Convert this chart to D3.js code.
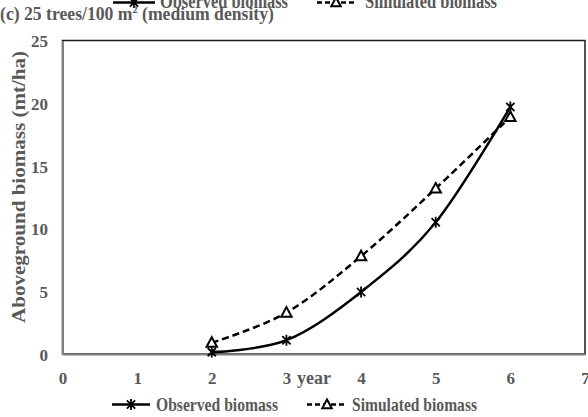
<!DOCTYPE html>
<html>
<head>
<meta charset="utf-8">
<script src="https://cdn.jsdelivr.net/npm/d3@7"></script>
<style>
  html, body { margin: 0; padding: 0; background: #fff; }
  svg { display: block; }
  text { font-family: "Liberation Serif", "Times New Roman", serif; font-weight: bold; fill: #595959; }
</style>
</head>
<body>
<svg id="chart" width="588" height="417"></svg>
<script>
// ---- data ----
const years = [2, 3, 4, 5, 6];
const observed = [0.15, 1.1, 4.95, 10.5, 19.7];
const simulated = [0.9, 3.3, 7.8, 13.2, 18.9];
const xTicks = [0, 1, 2, 3, 4, 5, 6, 7];
const yTicks = [0, 5, 10, 15, 20, 25];
const seriesNames = ["Observed biomass", "Simulated biomass"];
const titleMain = "(c) 25 trees/100 m";
const titleSup = "2";
const titleEnd = " (medium density)";
const xTitle = "year";
const yTitle = "Aboveground biomass (mt/ha)";

const svg = d3.select("#chart");
const L = 62.5, R = 585, T = 40.5, B = 354;
const x = d3.scaleLinear().domain([0, 7]).range([L, R]);
const y = d3.scaleLinear().domain([0, 25]).range([B, T]);

// plot border
svg.append("rect").attr("x", L).attr("y", T).attr("width", R - L).attr("height", B - T)
  .attr("fill", "none").attr("stroke", "#1a1a1a").attr("stroke-width", 1.5);

// axes
const xAxis = svg.append("g").attr("transform", `translate(0,${B})`)
  .call(d3.axisBottom(x).tickValues(xTicks).tickSize(0).tickFormat(d3.format("d")));
xAxis.select(".domain").attr("stroke", "#7f7f7f").attr("stroke-width", 2);
xAxis.selectAll("text").attr("y", 29.5).attr("dy", 0).attr("font-size", 17)
  .style("font-family", "Liberation Serif").style("font-weight", "bold").attr("fill", "#595959");

const yAxis = svg.append("g").attr("transform", `translate(${L},0)`)
  .call(d3.axisLeft(y).tickValues(yTicks).tickSize(0).tickFormat(d3.format("d")));
yAxis.select(".domain").attr("stroke", "#7f7f7f").attr("stroke-width", 2);
yAxis.selectAll("text").attr("x", -14.5).attr("dy", "0.36em").attr("font-size", 17)
  .style("font-family", "Liberation Serif").style("font-weight", "bold").attr("fill", "#595959");

// axis titles
svg.append("text").attr("x", 314).attr("y", 383.5).attr("text-anchor", "middle")
  .attr("font-size", 18).text(xTitle);
svg.append("text").attr("transform", "translate(25,187) rotate(-90)").attr("text-anchor", "middle")
  .attr("font-size", 18.5).attr("textLength", 272).attr("lengthAdjust", "spacingAndGlyphs").text(yTitle);

// markers
function starPath(cx, cy, r) {
  const d = r * 0.75;
  return `M${cx},${cy - r}L${cx},${cy + r}M${cx - d},${cy - d}L${cx + d},${cy + d}M${cx - d},${cy + d}L${cx + d},${cy - d}`;
}
function triPath(cx, cy, r) {
  return `M${cx},${cy - r}L${cx + r * 0.95},${cy + r * 0.75}L${cx - r * 0.95},${cy + r * 0.75}Z`;
}

const line = d3.line().curve(d3.curveCatmullRom.alpha(0)).x((d, i) => x(years[i])).y(d => y(d));

// simulated
svg.append("path").datum(simulated).attr("d", line).attr("fill", "none")
  .attr("stroke", "#000").attr("stroke-width", 2.5).attr("stroke-dasharray", "7,4");
// observed
svg.append("path").datum(observed).attr("d", line).attr("fill", "none")
  .attr("stroke", "#000").attr("stroke-width", 2.5);

svg.selectAll(".tri").data(simulated).enter().append("path")
  .attr("d", (d, i) => triPath(x(years[i]), y(d), 5.5))
  .attr("fill", "#fff").attr("stroke", "#000").attr("stroke-width", 2);
svg.selectAll(".star").data(observed).enter().append("path")
  .attr("d", (d, i) => starPath(x(years[i]), y(d), 5.5))
  .attr("fill", "none").attr("stroke", "#000").attr("stroke-width", 1.8);

// legends
function legend(yLine, yText, x1, x2, xt1, sx1, sx2, xt2, w1, w2, fs) {
  const g = svg.append("g");
  g.append("line").attr("x1", x1).attr("x2", x2).attr("y1", yLine).attr("y2", yLine)
    .attr("stroke", "#000").attr("stroke-width", 2.5);
  g.append("path").attr("d", starPath((x1 + x2) / 2, yLine, 5.5)).attr("stroke", "#000")
    .attr("stroke-width", 1.8).attr("fill", "none");
  g.append("text").attr("x", xt1).attr("y", yText).attr("font-size", fs)
    .attr("textLength", w1).attr("lengthAdjust", "spacingAndGlyphs").text(seriesNames[0]);
  g.append("line").attr("x1", sx1).attr("x2", sx2).attr("y1", yLine).attr("y2", yLine)
    .attr("stroke", "#000").attr("stroke-width", 2.5).attr("stroke-dasharray", "5,3");
  g.append("path").attr("d", triPath((sx1 + sx2) / 2, yLine, 5)).attr("stroke", "#000")
    .attr("stroke-width", 2).attr("fill", "#fff");
  g.append("text").attr("x", xt2).attr("y", yText).attr("font-size", fs)
    .attr("textLength", w2).attr("lengthAdjust", "spacingAndGlyphs").text(seriesNames[1]);
}
legend(404.5, 411, 112, 150, 156, 307, 347, 352, 122, 125, 19.5);
legend(2.5, 8, 113, 155, 160, 317, 355, 365, 128, 132, 20);

// title
const t = svg.append("text").attr("transform", "translate(0,19.5) scale(0.93,1)").attr("font-size", 19);
t.append("tspan").text(titleMain);
t.append("tspan").attr("font-size", 11).attr("dy", -7).text(titleSup);
t.append("tspan").attr("dy", 7).text(titleEnd);
</script>
</body>
</html>
